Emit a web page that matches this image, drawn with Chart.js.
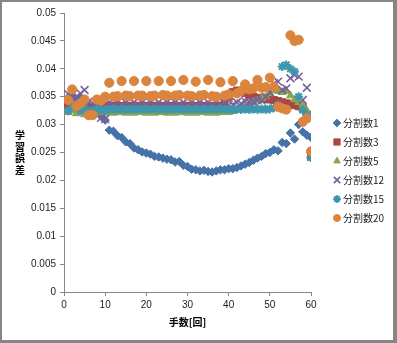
<!DOCTYPE html>
<html><head><meta charset="utf-8">
<script src="https://cdn.jsdelivr.net/npm/chart.js@4/dist/chart.umd.min.js"></script>
<style>
html,body{margin:0;padding:0;background:#fff;}
#wrap{position:relative;width:397px;height:343px;}
#frame{position:absolute;left:0;top:0;width:397px;height:343px;box-sizing:border-box;border-style:solid;border-color:#868686;border-width:2px 4px 3px 2px;pointer-events:none;}
canvas{position:absolute;left:0;top:0;}
</style></head><body>
<div id="wrap"><canvas id="c" width="397" height="343"></canvas><div id="frame"></div></div>
<script>
// ---- data ----
const moves = [1,2,3,4,5,6,7,8,9,10,11,12,13,14,15,16,17,18,19,20,21,22,23,24,25,26,27,28,29,30,
  31,32,33,34,35,36,37,38,39,40,41,42,43,44,45,46,47,48,49,50,51,52,53,54,55,56,57,58,59,60];
const seriesNames = ['分割数1','分割数3','分割数5','分割数12','分割数15','分割数20'];
const div1 = [0.0338,0.0350,0.0345,0.0348,0.0340,0.0333,0.0328,0.0322,0.0315,0.0308,
  0.0290,0.0288,0.0280,0.0277,0.0269,0.0266,0.0258,0.0255,0.0251,0.0249,
  0.0247,0.0243,0.0242,0.0240,0.0238,0.0237,0.0233,0.0234,0.0227,0.0225,
  0.0220,0.0219,0.0217,0.0218,0.0216,0.0215,0.0217,0.0219,0.0219,0.0221,
  0.0221,0.0223,0.0226,0.0229,0.0232,0.0236,0.0240,0.0243,0.0248,0.0250,
  0.0255,0.0253,0.0268,0.0266,0.0285,0.0274,0.0300,0.0287,0.0281,0.0277];
const div3 = [0.0335,0.0333,0.0330,0.0332,0.0330,0.0328,0.0330,0.0331,0.0330,0.0331,
  0.0334,0.0333,0.0334,0.0333,0.0334,0.0333,0.0334,0.0333,0.0334,0.0333,
  0.0334,0.0333,0.0334,0.0333,0.0334,0.0333,0.0334,0.0333,0.0334,0.0333,
  0.0334,0.0333,0.0334,0.0333,0.0334,0.0333,0.0334,0.0333,0.0340,0.0350,
  0.0358,0.0361,0.0360,0.0357,0.0352,0.0350,0.0348,0.0347,0.0346,0.0345,
  0.0344,0.0342,0.0340,0.0338,0.0337,0.0335,0.0333,0.0330,0.0318,0.0243];
const div5 = [0.0322,0.0325,0.0320,0.0323,0.0318,0.0320,0.0322,0.0321,0.0322,0.0321,
  0.0322,0.0321,0.0322,0.0323,0.0321,0.0322,0.0321,0.0322,0.0323,0.0321,
  0.0322,0.0321,0.0322,0.0323,0.0321,0.0322,0.0321,0.0322,0.0323,0.0321,
  0.0322,0.0321,0.0322,0.0323,0.0321,0.0322,0.0321,0.0322,0.0323,0.0322,
  0.0324,0.0327,0.0330,0.0333,0.0336,0.0340,0.0343,0.0347,0.0350,0.0356,
  0.0362,0.0360,0.0358,0.0360,0.0352,0.0345,0.0340,0.0335,0.0325,0.0240];
const div12 = [0.0355,0.0348,0.0350,0.0356,0.0362,0.0341,0.0338,0.0334,0.0312,0.0310,
  0.0340,0.0335,0.0340,0.0335,0.0340,0.0335,0.0340,0.0335,0.0340,0.0335,
  0.0340,0.0335,0.0340,0.0335,0.0340,0.0335,0.0340,0.0335,0.0340,0.0335,
  0.0340,0.0335,0.0340,0.0335,0.0340,0.0335,0.0340,0.0335,0.0340,0.0335,
  0.0336,0.0340,0.0338,0.0342,0.0340,0.0341,0.0344,0.0343,0.0350,0.0358,
  0.0374,0.0377,0.0362,0.0365,0.0383,0.0389,0.0386,0.0344,0.0366,0.0245];
const div15 = [0.0325,0.0332,0.0336,0.0325,0.0330,0.0322,0.0325,0.0328,0.0326,0.0327,
  0.0327,0.0328,0.0327,0.0328,0.0327,0.0328,0.0327,0.0328,0.0327,0.0328,
  0.0327,0.0328,0.0327,0.0328,0.0327,0.0328,0.0327,0.0328,0.0327,0.0328,
  0.0327,0.0328,0.0327,0.0328,0.0327,0.0328,0.0327,0.0328,0.0327,0.0328,
  0.0327,0.0328,0.0327,0.0328,0.0327,0.0328,0.0327,0.0328,0.0327,0.0328,
  0.0330,0.0335,0.0404,0.0407,0.0400,0.0395,0.0350,0.0326,0.0317,0.0241];
const div20 = [0.0344,0.0363,0.0333,0.0338,0.0345,0.0317,0.0317,0.0345,0.0343,0.0350,
  0.0375,0.0350,0.0351,0.0378,0.0352,0.0351,0.0378,0.0352,0.0352,0.0378,
  0.0351,0.0352,0.0378,0.0353,0.0352,0.0378,0.0352,0.0353,0.0380,0.0352,
  0.0351,0.0377,0.0352,0.0353,0.0380,0.0351,0.0350,0.0376,0.0352,0.0354,
  0.0378,0.0356,0.0360,0.0372,0.0363,0.0365,0.0380,0.0366,0.0367,0.0384,
  0.0368,0.0332,0.0329,0.0327,0.0460,0.0450,0.0452,0.0305,0.0311,0.0252];
const yTicks = [0,0.005,0.01,0.015,0.02,0.025,0.03,0.035,0.04,0.045,0.05];
const xTicks = [0,10,20,30,40,50,60];
const xTitle = '手数[回]';
const yTitle = ['学','習','誤','差'];

// ---- styles ----
const allSeries = [div1, div3, div5, div12, div15, div20];
const styles = [
  {c:'#4572A7', ps:'rectRot', r:4.2, bw:1, lr:3.8},
  {c:'#AA4643', ps:'rect', r:5, bw:1, lr:4.4},
  {c:'#89A54E', ps:'triangle', r:4.5, bw:1, lr:3.8},
  {c:'#7A5F9C', ps:'crossRot', r:5.5, bw:1.6, lr:4.5},
  {c:'#3D96AE', ps:'star', r:4.5, bw:2, lr:3.8},
  {c:'#DB843D', ps:'circle', r:4.6, bw:1, lr:3.5}
];
const datasets = allSeries.map((vals, i) => ({
  label: seriesNames[i],
  data: moves.map((m, k) => ({x: m, y: vals[k]})),
  pointStyle: styles[i].ps,
  pointRadius: styles[i].r,
  pointHoverRadius: styles[i].r,
  backgroundColor: styles[i].c,
  borderColor: styles[i].c,
  borderWidth: styles[i].bw,
  showLine: false,
  order: allSeries.length - 1 - i
}));

const textPlugin = {
  id: 'textPlugin',
  afterDraw(chart) {
    const ctx = chart.ctx, ca = chart.chartArea;
    ctx.save();
    ctx.font = 'bold 10px "Noto Sans CJK JP", sans-serif';
    ctx.fillStyle = '#000';
    ctx.textAlign = 'center';
    ctx.textBaseline = 'middle';
    const cy = (ca.top + ca.bottom) / 2, lh = 11.5, n = yTitle.length;
    yTitle.forEach((ch, i) => ctx.fillText(ch, 20, cy + (i - (n - 1) / 2) * lh));
    chart.data.datasets.forEach((ds, i) => {
      const y = 123 + i * 19;
      ctx.fillStyle = ds.backgroundColor;
      ctx.strokeStyle = ds.borderColor;
      ctx.lineWidth = ds.borderWidth;
      Chart.helpers.drawPoint(ctx, {pointStyle: ds.pointStyle, radius: styles[i].lr, rotation: 0, borderWidth: ds.borderWidth}, 337, y);
      ctx.fillStyle = '#222';
      ctx.font = '10px "Noto Sans CJK JP", sans-serif';
      ctx.textAlign = 'left';
      ctx.fillText(ds.label, 343, y);
    });
    ctx.restore();
  }
};

const axisColor = '#868686';
new Chart(document.getElementById('c'), {
  type: 'scatter',
  data: {datasets},
  plugins: [textPlugin],
  options: {
    responsive: false,
    animation: false,
    layout: {padding: {left: 0, right: 86, top: 13, bottom: 0}},
    plugins: {legend: {display: false}, tooltip: {enabled: false}},
    scales: {
      x: {
        type: 'linear', min: 0, max: 60,
        afterBuildTicks: s => { s.ticks = xTicks.map(v => ({value: v})); },
        afterFit: s => { s.height = 51; },
        ticks: {padding: 3, color: '#222', font: {size: 10, family: '"Liberation Sans", Arial, sans-serif'}},
        grid: {drawOnChartArea: false, drawTicks: true, tickLength: 4, color: axisColor},
        border: {color: axisColor, width: 1},
        title: {display: true, text: xTitle, color: '#000', font: {size: 10, weight: 'bold', family: '"Noto Sans CJK JP", sans-serif'}, padding: {top: 0, bottom: 15}}
      },
      y: {
        type: 'linear', min: 0, max: 0.05,
        afterBuildTicks: s => { s.ticks = yTicks.map(v => ({value: v})); },
        afterFit: s => { s.width = 64; },
        ticks: {padding: 4, color: '#222', font: {size: 10, family: '"Liberation Sans", Arial, sans-serif'},
          callback: v => String(parseFloat(Number(v).toFixed(4)))},
        grid: {drawOnChartArea: false, drawTicks: true, tickLength: 4, color: axisColor},
        border: {color: axisColor, width: 1}
      }
    }
  }
});
</script>
</body></html>
